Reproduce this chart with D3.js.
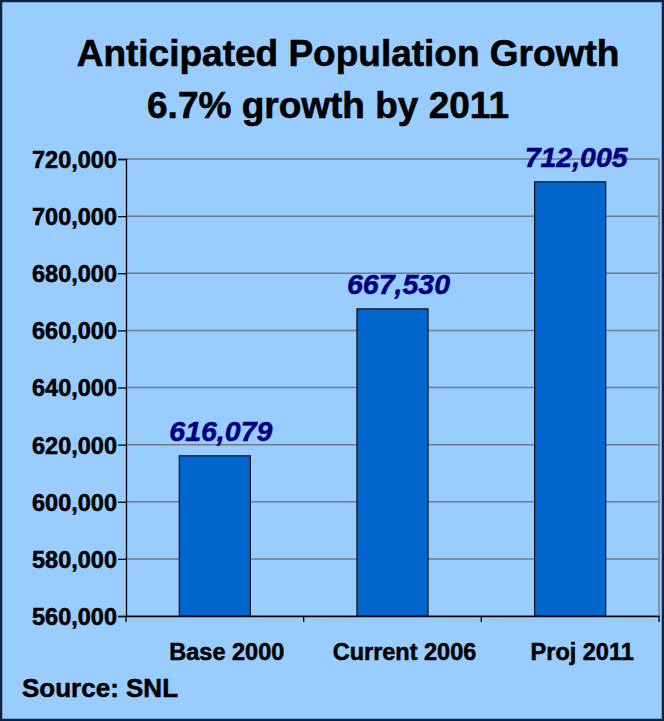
<!DOCTYPE html>
<meta charset="utf-8">
<script src="https://d3js.org/d3.v7.min.js"></script>
<style>
  body { margin: 0; background: #fff; }
  text { font-family: "Liberation Sans", Arial, sans-serif; font-weight: bold; }
</style>
<div id="chart"></div>
<script>
// data
var categories = ["Base 2000", "Current 2006", "Proj 2011"];
var population = [616079, 667530, 712005];
var yTicks = [560000, 580000, 600000, 620000, 640000, 660000, 680000, 700000, 720000];
var titleLines = ["Anticipated Population Growth", "6.7% growth by 2011"];

var W = 664, H = 721;
var margin = {top: 159, right: 5, bottom: 105, left: 126};

var svg = d3.select("#chart").append("svg")
    .attr("width", W)
    .attr("height", H);

// background + frame
svg.append("rect")
    .attr("x", 1).attr("y", 1)
    .attr("width", W - 2).attr("height", H - 2)
    .attr("fill", "#99ccff")
    .attr("stroke", "#0f2240")
    .attr("stroke-width", 2.5);

var x = d3.scaleBand()
    .domain(categories)
    .range([margin.left, W - margin.right])
    .padding(0);

var y = d3.scaleLinear()
    .domain([560000, 720000])
    .range([H - margin.bottom, margin.top]);

// gridlines
svg.append("g")
  .selectAll("line")
  .data(yTicks)
  .join("line")
    .attr("x1", margin.left)
    .attr("x2", W - margin.right)
    .attr("y1", d => y(d))
    .attr("y2", d => y(d))
    .attr("stroke", "#707a88")
    .attr("stroke-width", 1.5);

// right border of plot area
svg.append("line")
    .attr("x1", W - margin.right).attr("x2", W - margin.right)
    .attr("y1", margin.top).attr("y2", H - margin.bottom)
    .attr("stroke", "#808080")
    .attr("stroke-width", 1.5);

// bars
var barW = x.bandwidth() * 0.4;
svg.append("g")
  .selectAll("rect")
  .data(population)
  .join("rect")
    .attr("x", (d, i) => x(categories[i]) + (x.bandwidth() - barW) / 2)
    .attr("y", d => y(d))
    .attr("width", barW)
    .attr("height", d => y(560000) - y(d))
    .attr("fill", "#0066cc")
    .attr("stroke", "#111")
    .attr("stroke-width", 1.2);

// value labels
svg.append("g")
  .selectAll("text")
  .data(population)
  .join("text")
    .attr("x", (d, i) => x(categories[i]) + x.bandwidth() / 2 + 6)
    .attr("y", d => y(d) - 15)
    .attr("text-anchor", "middle")
    .attr("font-size", 28.5)
    .attr("font-style", "italic")
    .attr("fill", "#000080")
    .attr("stroke", "#000080")
    .attr("stroke-width", 0.5)
    .text(d => d3.format(",")(d));

// y axis
var yAxis = svg.append("g")
    .attr("transform", `translate(${margin.left},0)`)
    .call(d3.axisLeft(y).tickValues(yTicks).tickFormat(d3.format(",")).tickSize(8).tickPadding(1));
yAxis.selectAll("text")
    .attr("font-size", 23.5)
    .attr("fill", "#000")
    .attr("stroke", "#000")
    .attr("stroke-width", 0.5)
    .attr("dy", "0.36em");
yAxis.selectAll("line, path").attr("stroke", "#000").attr("stroke-width", 1.3);

// x axis
var xAxis = svg.append("g")
    .attr("transform", `translate(0,${H - margin.bottom})`)
    .call(d3.axisBottom(x).tickSize(0).tickPadding(44));
xAxis.select("path").attr("stroke", "#000").attr("stroke-width", 1.3);
xAxis.selectAll("text")
    .attr("font-size", 23.5)
    .attr("fill", "#000")
    .attr("stroke", "#000")
    .attr("stroke-width", 0.5)
    .attr("dy", 0)
    .attr("dx", 12);
xAxis.selectAll(".boundary")
  .data(x.domain().map(c => x(c)).concat([W - margin.right]))
  .join("line")
    .attr("class", "boundary")
    .attr("x1", d => d).attr("x2", d => d)
    .attr("y1", 0).attr("y2", 6)
    .attr("stroke", "#000")
    .attr("stroke-width", 1.3);

// title
svg.append("g")
    .attr("text-anchor", "middle")
    .attr("font-size", 37)
    .attr("stroke", "#000")
    .attr("stroke-width", 0.6)
  .selectAll("text")
  .data(titleLines)
  .join("text")
    .attr("x", (d, i) => i === 0 ? 348 : 328)
    .attr("y", (d, i) => i === 0 ? 66 : 118)
    .text(d => d);

// source note
svg.append("text")
    .attr("x", 22).attr("y", 697)
    .attr("font-size", 26)
    .attr("stroke", "#000")
    .attr("stroke-width", 0.5)
    .text("Source: SNL");
</script>
